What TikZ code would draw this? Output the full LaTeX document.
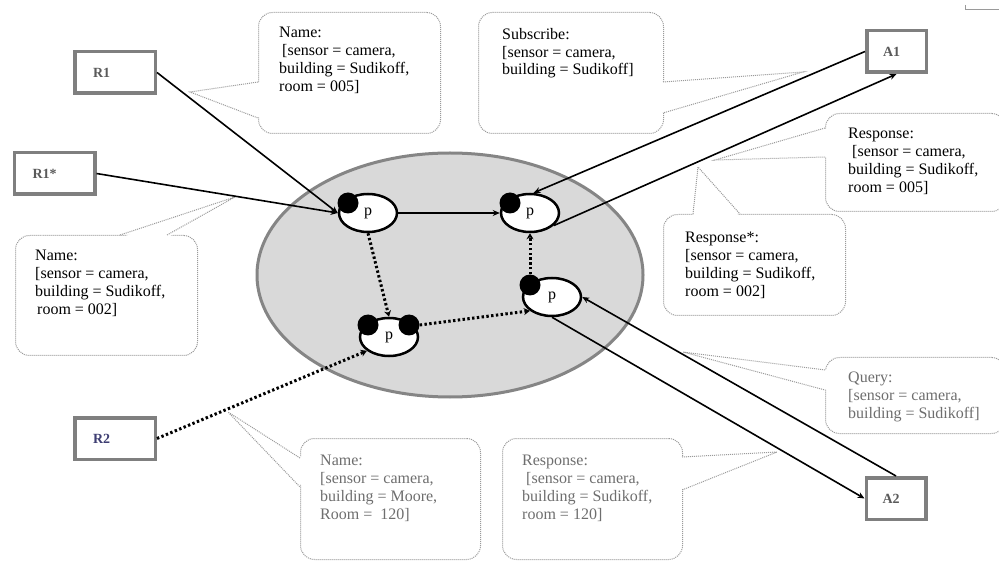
\documentclass[tikz,border=0pt]{standalone}
\usepackage{fontspec}
\setmainfont{Liberation Serif}
\usetikzlibrary{shapes.geometric,arrows.meta}
\definecolor{agentgray}{HTML}{7F7F7F}
\definecolor{labelgray}{HTML}{5A5A5A}
\definecolor{rtwo}{HTML}{3E3E72}
\definecolor{cgray}{HTML}{9A9A9A}
\definecolor{ctgray}{HTML}{6E6E6E}
\definecolor{netfill}{HTML}{D9D9D9}
\definecolor{netdraw}{HTML}{858585}
\tikzset{
  agent/.style={rectangle, draw=agentgray, line width=3.5pt, fill=white, minimum height=41.5pt,
    inner xsep=0pt, align=left, font=\fontsize{14}{16}\selectfont\bfseries, text=labelgray},
  rbox/.style={agent, minimum width=80.5pt, text width=44pt},
  abox/.style={agent, minimum width=59.5pt, text width=27pt},
  callbox/.style={rectangle, draw=cgray, dash pattern=on 1pt off 1pt, line width=1pt,
    rounded corners=14pt, fill=white, inner sep=0pt, anchor=north west},
  tailline/.style={draw=cgray, dash pattern=on 1pt off 1pt, line width=1pt},
  ctext/.style={inner sep=0pt, anchor=north west, align=left, font=\fontsize{16}{17.8}\selectfont},
  proc/.style={ellipse, draw=black, line width=2.5pt, fill=white, minimum width=58pt,
    minimum height=38pt, inner sep=0pt, font=\fontsize{16}{16}\selectfont},
  pdot/.style={circle, fill=black, minimum size=21pt, inner sep=0pt},
  conn/.style={draw=black, line width=1.6pt, -{Stealth[length=7pt,width=6pt]}},
  dconn/.style={draw=black, line width=3pt, dash pattern=on 2.4pt off 2.4pt, -{Stealth[length=6pt,width=7pt]}},
}
\begin{document}
\begin{tikzpicture}[x=1pt,y=-1pt]
\useasboundingbox (0,0) rectangle (999,561);
\fill[white] (0,0) rectangle (999,561);
\draw[cgray, line width=0.8pt] (965,5) -- (965,9) -- (999,9);

% ---- callouts ----
% C1 Name 005
\node[callbox, minimum width=182pt, minimum height=121pt] (c1) at (258,12) {};
\fill[white] (261,82) -- (190,92) -- (261,118) -- cycle;
\draw[tailline] (258,82) -- (190,92) -- (258,118);
\node[ctext] (t1) at (279,27) {Name:\\\hspace*{3pt}{[}sensor = camera,\\building = Sudikoff,\\room = 005]};
% C2 Subscribe
\node[callbox, minimum width=185pt, minimum height=121pt] (c2) at (478,12) {};
\fill[white] (660,82) -- (803,72) -- (660,113) -- cycle;
\draw[tailline] (663,82) -- (803,72) -- (663,113);
\node[ctext] (t2) at (502,28) {Subscribe:\\{[}sensor = camera,\\building = Sudikoff]};
% C3 Response 005
\node[callbox, minimum width=180pt, minimum height=98pt] (c3) at (825,113) {};
\fill[white] (828,128) -- (715,160) -- (828,157) -- cycle;
\draw[tailline] (825,128) -- (715,160) -- (825,157);
\node[ctext] (t3) at (848,128) {Response:\\\hspace*{4pt}{[}sensor = camera,\\building = Sudikoff,\\room = 005]};
% C4 Response*
\node[callbox, minimum width=182pt, minimum height=101pt] (c4) at (663,214) {};
\fill[white] (693,217) -- (698,167) -- (740,217) -- cycle;
\draw[tailline] (693,214) -- (698,167) -- (740,214);
\node[ctext] (t4) at (685,232) {Response*:\\{[}sensor = camera,\\building = Sudikoff,\\room = 002]};
% C5 Name 002
\node[callbox, minimum width=182pt, minimum height=120pt] (c5) at (15,235) {};
\fill[white] (120,238) -- (235,197) -- (167,238) -- cycle;
\draw[tailline] (120,235) -- (235,197) -- (167,235);
\node[ctext] (t5) at (35,250) {Name:\\{[}sensor = camera,\\building = Sudikoff,\\\hspace*{2pt}room = 002]};
% C6 Query
\node[callbox, minimum width=180pt, minimum height=76pt] (c6) at (825,357) {};
\fill[white] (828,370) -- (683,352) -- (828,390) -- cycle;
\draw[tailline] (825,370) -- (683,352) -- (825,390);
\node[ctext, text=ctgray] (t6) at (848,372) {Query:\\{[}sensor = camera,\\building = Sudikoff]};
% C7 Name Moore
\node[callbox, minimum width=180pt, minimum height=121pt] (c7) at (300,438) {};
\fill[white] (303,458) -- (228,412) -- (303,487) -- cycle;
\draw[tailline] (300,458) -- (228,412) -- (300,487);
\node[ctext, text=ctgray] (t7) at (320,455) {Name:\\{[}sensor = camera,\\building = Moore,\\Room =\ \ 120]};
% C8 Response 120
\node[callbox, minimum width=180pt, minimum height=121pt] (c8) at (502,438) {};
\fill[white] (679,457) -- (777,452) -- (679,490) -- cycle;
\draw[tailline] (682,457) -- (777,452) -- (682,490);
\node[ctext, text=ctgray] (t8) at (522,455) {Response:\\\hspace*{4pt}{[}sensor = camera,\\building = Sudikoff,\\room = 120]};

% ---- network ----
\node[ellipse, draw=netdraw, line width=3pt, fill=netfill, minimum width=386pt, minimum height=244pt, inner sep=0pt] (net) at (450,275) {};

\node[proc] (P1) at (368,213) {p};
\node[proc] (P2) at (530,213) {p};
\node[proc] (P3) at (552,297) {p};
\node[proc] (P4) at (389,337) {p};
\node[pdot] (P1d) at (348,203) {};
\node[pdot] (P2d) at (510,203) {};
\node[pdot] (P3d) at (530,285) {};
\node[pdot] (P4a) at (368,325) {};
\node[pdot] (P4b) at (409,325) {};

% ---- agents ----
\node[rbox] (R1) at (115,72.5) {R1};
\node[rbox] (R1s) at (54.5,173.5) {R1*};
\node[rbox, text=rtwo] (R2) at (115,438.5) {R2};
\node[abox] (A1) at (896.5,51.5) {A1};
\node[abox] (A2) at (896,498.5) {A2};

% ---- connectors ----
\draw[conn] (R1.east) -- (P1.west);
\draw[conn] (R1s.east) -- (P1.west);
\draw[conn, line width=2.6pt] (P1.east) -- (P2.west);
\draw[dconn] (P1.south) -- (P4.north);
\draw[dconn] (P4b.east) -- (P3.212);
\draw[dconn] (P3d.north) -- (P2.south);
\draw[dconn] (R2.east) -- (P4.212);
\draw[conn] (A1.west) -- (P2.80);
\draw[conn] (P2.-28) -- (A1.south);
\draw[conn] (A2.north) -- (P3.east);
\draw[conn] (P3.south) -- (A2.west);
\end{tikzpicture}
\end{document}
